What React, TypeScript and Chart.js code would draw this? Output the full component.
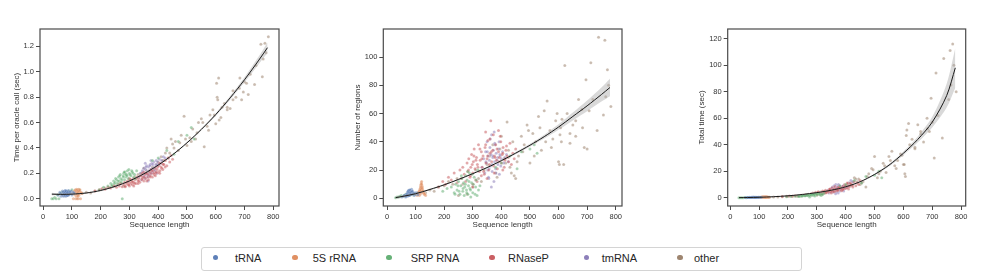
import React, { useEffect, useRef } from "react";
import { Chart, registerables } from "chart.js";

Chart.register(...registerables);

// ---------- categories ----------
const categories = ["tRNA", "5S rRNA", "SRP RNA", "RNaseP", "tmRNA", "other"];
const colors = ["#4C72B0", "#DD8452", "#55A868", "#C44E52", "#8172B3", "#937860"];

// ---------- tRNA ----------
const trnaLen = [52, 58, 62, 65, 67, 69, 70, 71, 72, 73, 74, 74, 75, 76, 76, 77, 78, 79, 80, 81, 82, 83, 84, 85, 86, 87, 88, 90, 92, 95, 100, 108,
  60, 66, 70, 73, 75, 77, 79, 81, 83, 85, 89, 93, 98, 104];
const trnaTime = [0.03, 0.05, 0.02, 0.04, 0.06, 0.03, 0.05, 0.02, 0.045, 0.035, 0.06, 0.025, 0.04, 0.055, 0.03, 0.065, 0.045, 0.02, 0.035, 0.05, 0.06, 0.03, 0.045, 0.025, 0.055, 0.04, 0.065, 0.035, 0.05, 0.04, 0.03, 0.045,
  0.04, 0.03, 0.055, 0.04, 0.03, 0.05, 0.06, 0.04, 0.025, 0.05, 0.03, 0.055, 0.06, 0.05];
const trnaRegions = [1, 1.5, 2, 1, 3, 2, 2.5, 4, 1.5, 3, 5, 2, 3.5, 2.5, 4.5, 3, 6, 2, 3.5, 4, 5, 2.5, 3, 4, 6.5, 3, 5, 4, 3.5, 2, 3, 2.5,
  2, 1.5, 3, 4.5, 5.5, 2, 4, 6, 3, 4.5, 5, 3.5, 4, 4];
const trnaTotal = [0.1, 0.2, 0.1, 0.2, 0.3, 0.1, 0.2, 0.1, 0.2, 0.15, 0.3, 0.1, 0.2, 0.25, 0.15, 0.3, 0.2, 0.1, 0.2, 0.25, 0.3, 0.15, 0.2, 0.1, 0.3, 0.2, 0.35, 0.2, 0.25, 0.2, 0.15, 0.3,
  0.1, 0.1, 0.2, 0.2, 0.3, 0.2, 0.25, 0.3, 0.2, 0.25, 0.2, 0.3, 0.3, 0.3];

// ---------- 5S rRNA ----------
const s5Len = [100, 105, 108, 110, 112, 113, 114, 115, 116, 116, 117, 118, 118, 119, 119, 120, 120, 121, 122, 122, 123, 124, 125, 127, 130, 135,
  111, 114, 117, 118, 120, 121, 123, 126, 128, 132];
const s5Time = [0.04, 0.0, 0.06, 0.03, 0.07, 0.0, 0.05, 0.04, 0.075, 0.02, 0.06, 0.035, 0.0, 0.065, 0.05, 0.03, 0.07, 0.045, 0.0, 0.06, 0.04, 0.075, 0.03, 0.05, 0.0, 0.04,
  0.05, 0.065, 0.04, 0.07, 0.055, 0.02, 0.065, 0.06, 0.07, 0.05];
const s5Regions = [3, 2, 4, 3, 5, 2, 6, 4, 7, 3, 8, 5, 9, 6, 10, 11, 4, 12, 7, 9, 5, 8, 6, 4, 3, 2,
  4, 5, 6, 7, 8, 10, 7, 5, 4, 3];
const s5Total = [0.3, 0.1, 0.4, 0.3, 0.5, 0.1, 0.4, 0.3, 0.6, 0.2, 0.5, 0.3, 0.2, 0.5, 0.4, 0.3, 0.6, 0.4, 0.2, 0.5, 0.3, 0.6, 0.3, 0.4, 0.1, 0.3,
  0.4, 0.4, 0.4, 0.5, 0.5, 0.3, 0.5, 0.4, 0.5, 0.4];

// ---------- SRP RNA ----------
const srpLen = [30, 35, 40, 45, 50, 55, 60, 65, 90, 100, 110, 125,
  195, 210, 225, 235, 240, 245, 250, 255, 258, 262, 265, 268, 270, 272, 275, 278, 280, 283, 285, 288, 290, 293, 296, 300, 305, 310, 315, 320,
  380, 400, 430, 455, 470, 500, 515, 525,
  238, 248, 252, 260, 266, 274, 279, 282, 287, 292, 298, 302, 308, 312, 318, 325];
const srpTime = [0.0, 0.0, 0.01, 0.0, 0.03, 0.0, 0.04, 0.05, 0.06, 0.07, 0.065, 0.07,
  0.07, 0.09, 0.1, 0.12, 0.11, 0.14, 0.13, 0.15, 0.12, 0.17, 0.14, 0.19, 0.16, 0.13, 0.0, 0.18, 0.2, 0.15, 0.21, 0.17, 0.19, 0.22, 0.16, 0.2, 0.18, 0.21, 0.17, 0.16,
  0.3, 0.32, 0.38, 0.35, 0.45, 0.5, 0.56, 0.47,
  0.1, 0.12, 0.16, 0.14, 0.18, 0.15, 0.17, 0.21, 0.19, 0.18, 0.23, 0.19, 0.22, 0.2, 0.19, 0.22];
const srpRegions = [0.5, 1, 1, 1.5, 2, 1.5, 2, 3, 2.5, 3, 4, 5,
  5, 7, 8, 4, 10, 6, 12, 3, 9, 14, 5, 11, 2, 8, 16, 6, 13, 3, 9, 18, 7, 1, 11, 4, 15, 8, 2, 6,
  22, 25, 30, 21, 33, 35, 38, 32,
  3, 9, 5, 16, 7, 10, 4, 19, 12, 6, 17, 10, 3, 13, 20, 9];
const srpTotal = [0, 0, 0, 0, 0.1, 0, 0.1, 0.2, 0.2, 0.3, 0.3, 0.4,
  0.6, 0.8, 1, 1.2, 1.1, 1.5, 1.3, 1.8, 1.4, 2, 1.6, 2.2, 1.5, 1.9, 0.5, 2.4, 1.8, 2.1, 2.6, 1.7, 2.5, 1.2, 2.8, 2, 3, 2.2, 1.6, 2.4,
  9, 10, 13, 11, 16, 17, 20, 15,
  0.9, 1.2, 1.6, 1.4, 2, 1.8, 2.1, 2.6, 2.3, 2.4, 3, 2.6, 3.2, 2.8, 2.6, 3.3];

// ---------- RNaseP ----------
const rnasepLen = [180, 195, 205, 215, 225, 235, 245, 255,
  260, 265, 270, 275, 280, 283, 286, 290, 293, 296,
  300, 302, 305, 308, 310, 313, 316, 320, 323, 326,
  330, 333, 336, 340, 343, 346, 350, 353, 356, 360,
  363, 366, 370, 373, 376, 380, 383, 386, 390, 393,
  396, 400, 403, 406, 410, 413, 416, 420, 425, 430,
  435, 440, 445, 450, 300, 350,
  285, 292, 298, 304, 311, 318, 325, 332, 338, 345,
  352, 358, 365, 372, 378, 385, 392, 398, 405, 412,
  418, 424, 300, 315, 330, 345, 360, 375, 390, 405];
const rnasepTime = [0.06, 0.07, 0.08, 0.075, 0.09, 0.085, 0.1, 0.09,
  0.11, 0.1, 0.12, 0.095, 0.11, 0.13, 0.1, 0.12, 0.14, 0.11,
  0.13, 0.15, 0.12, 0.14, 0.11, 0.16, 0.13, 0.15, 0.12, 0.17,
  0.14, 0.16, 0.13, 0.18, 0.15, 0.17, 0.14, 0.19, 0.16, 0.2,
  0.17, 0.15, 0.21, 0.18, 0.2, 0.17, 0.22, 0.19, 0.24, 0.2,
  0.23, 0.21, 0.26, 0.22, 0.25, 0.28, 0.23, 0.27, 0.3, 0.26,
  0.32, 0.29, 0.34, 0.31, 0.1, 0.21,
  0.095, 0.13, 0.11, 0.15, 0.13, 0.12, 0.16, 0.14, 0.18, 0.16,
  0.17, 0.2, 0.19, 0.17, 0.22, 0.2, 0.21, 0.25, 0.2, 0.24,
  0.27, 0.25, 0.16, 0.1, 0.12, 0.2, 0.14, 0.23, 0.18, 0.28];
const rnasepRegions = [8, 12, 10, 15, 13, 18, 11, 20,
  14, 22, 17, 12, 25, 19, 28, 15, 22, 31,
  18, 26, 35, 21, 13, 29, 24, 38, 19, 27,
  33, 22, 30, 17, 36, 25, 28, 41, 20, 32,
  55, 26, 34, 23, 30, 38, 27, 21, 33, 29,
  44, 25, 31, 36, 22, 28, 34, 30, 26, 39,
  24, 32, 28, 35, 10, 14,
  20, 16, 24, 30, 27, 22, 35, 28, 19, 38,
  30, 24, 33, 45, 29, 35, 26, 40, 32, 27,
  37, 29, 8, 12, 16, 47, 42, 18, 48, 20];
const rnasepTotal = [0.8, 1, 1.2, 1.1, 1.5, 1.3, 1.8, 1.6,
  2.2, 1.9, 2.6, 2, 3, 2.4, 3.5, 2.8, 3.3, 4,
  2.6, 3.6, 4.5, 3, 2.5, 4.2, 3.4, 5, 3.2, 4.4,
  5.5, 3.8, 5, 4, 6.2, 4.6, 5.5, 7.5, 4.4, 6.5,
  8.5, 5, 7, 5.4, 6.8, 8, 6, 5.2, 8.5, 6.8,
  10, 7, 9, 10.5, 6.5, 8.5, 11, 9.5, 8, 12,
  9, 11, 10, 13, 2, 3.5,
  2.5, 3.2, 3, 4, 3.6, 3.2, 4.6, 4, 4.8, 5.8,
  5, 6, 6.4, 5.6, 7.5, 7, 7.2, 9, 7.4, 8.8,
  10.5, 9.5, 3, 2.4, 3.6, 6.5, 4.5, 8, 6, 11];

// ---------- tmRNA ----------
const tmLen = [332, 338, 342, 345, 348, 350, 352, 354, 356, 358, 360, 362, 364, 366, 368, 370, 372, 374, 376, 378, 380, 382, 385, 388, 390, 393, 396, 400, 404, 408, 412, 418, 424, 365,
  346, 351, 357, 361, 367, 371, 377, 381, 387, 392, 398, 355, 375, 395];
const tmTime = [0.17, 0.2, 0.15, 0.22, 0.18, 0.24, 0.2, 0.16, 0.23, 0.19, 0.26, 0.21, 0.17, 0.25, 0.22, 0.19, 0.27, 0.23, 0.2, 0.28, 0.24, 0.21, 0.29, 0.25, 0.22, 0.3, 0.26, 0.27, 0.31, 0.28, 0.3, 0.33, 0.32, 0.14,
  0.21, 0.17, 0.25, 0.2, 0.18, 0.26, 0.22, 0.27, 0.23, 0.27, 0.29, 0.28, 0.3, 0.2];
const tmRegions = [22, 28, 18, 33, 25, 40, 20, 30, 14, 27, 36, 23, 31, 45, 19, 29, 34, 12, 26, 38, 21, 32, 27, 24, 35, 17, 30, 28, 33, 25, 29, 31, 26, 8,
  26, 33, 21, 42, 24, 30, 39, 18, 29, 40, 23, 15, 47, 31];
const tmTotal = [4, 5.5, 3.5, 6, 4.5, 7, 5, 8, 4, 6, 9, 5.5, 7, 10, 4.5, 6.5, 8, 3.5, 6, 9, 5, 7.5, 6.5, 6, 8.5, 5, 7, 8, 9.5, 8, 11, 13, 12, 3,
  5, 6.5, 5, 7.5, 6, 8, 6.5, 8.5, 7, 9, 8, 6, 10, 7.5];

// ---------- other ----------
const otherLen = [135, 150, 165, 180, 200, 215, 230, 245,
  265, 280, 300, 320, 340, 360, 380, 395, 410, 420, 430, 440, 445, 450,
  460, 470, 480, 490, 500, 510, 520, 530, 540, 550, 560, 570, 580, 590, 600,
  603, 605, 607, 610, 612, 618, 622, 630, 640, 650, 660, 670, 682, 684, 690, 696, 700, 707, 713, 720, 735, 740, 757, 762, 771, 783, 765, 775,
  250, 310, 330, 350, 370, 385, 400, 415, 425, 435, 455, 475, 495, 515, 535, 555, 575, 595, 640, 660];
const otherTime = [0.04, 0.05, 0.045, 0.06, 0.07, 0.085, 0.09, 0.1,
  0.12, 0.1, 0.15, 0.17, 0.2, 0.22, 0.25, 0.27, 0.33, 0.3, 0.4, 0.36, 0.47, 0.43,
  0.45, 0.38, 0.5, 0.65, 0.42, 0.48, 0.55, 0.47, 0.6, 0.63, 0.41, 0.57, 0.66, 0.7, 0.59,
  0.91, 0.8, 0.78, 0.95, 0.62, 0.64, 0.72, 0.75, 0.7, 0.71, 0.85, 0.8, 0.87, 0.95, 0.78, 0.84, 0.92, 0.91, 0.82, 0.98, 0.9, 1.05, 1.216, 0.96, 1.224, 1.276, 1.1, 1.15,
  0.1, 0.14, 0.19, 0.24, 0.21, 0.24, 0.29, 0.3, 0.36, 0.32, 0.4, 0.44, 0.47, 0.45, 0.52, 0.6, 0.54, 0.66, 0.72, 0.78];
const otherRegions = [4, 6, 5, 8, 9, 12, 10, 14,
  10, 3, 8, 14, 20, 30, 18, 35, 28, 54, 22, 40, 16, 14,
  30, 44, 38, 52, 25, 46, 40, 58, 34, 62, 69, 48, 42, 55, 26,
  24, 45, 50, 40, 56, 24, 94, 60, 46, 52, 55, 70, 63, 50, 36, 84, 35, 62, 96, 70, 48, 114, 59, 112, 91, 65, 72, 80,
  2, 20, 12, 24, 38, 15, 44, 25, 34, 18, 26, 33, 48, 30, 50, 40, 36, 60, 39, 44];
const otherTotal = [0.3, 0.4, 0.4, 0.6, 0.8, 1, 1, 1.3,
  2, 1.5, 3, 4, 5, 6, 7, 8, 11, 9, 15, 12, 14, 10,
  12, 8, 18, 22, 31, 15, 20, 26, 19, 31, 35, 24, 28, 33, 25,
  25, 18, 16, 47, 51, 56, 40, 44, 38, 55, 48, 42, 60, 52, 50, 75, 57, 30, 94, 62, 45, 105, 74, 111, 116, 80, 85, 100,
  2, 3, 4, 4.5, 6, 8, 9, 10, 12, 14, 11, 16, 21, 18, 24, 28, 22, 32, 37, 50];

// ---------- regression fits ----------
const fitLen = [30, 60, 100, 150, 200, 250, 300, 350, 400, 450, 500, 550, 600, 650, 700, 750, 780];
const fitTime = [0.036, 0.034, 0.036, 0.045, 0.065, 0.097, 0.14, 0.196, 0.265, 0.346, 0.44, 0.546, 0.663, 0.794, 0.937, 1.092, 1.19];
const fitTimeBand = [0.01, 0.007, 0.005, 0.004, 0.004, 0.004, 0.004, 0.004, 0.005, 0.005, 0.006, 0.008, 0.011, 0.015, 0.02, 0.03, 0.04];
const fitRegions = [0.5, 1.6, 3.3, 6.3, 9.6, 13.4, 17.5, 21.8, 26.7, 32, 37.6, 43.7, 50.5, 58, 65.5, 73.5, 78.5];
const fitRegionsBand = [1, 0.8, 0.6, 0.5, 0.4, 0.4, 0.4, 0.5, 0.6, 0.8, 1, 1.4, 2, 2.8, 3.8, 5, 6.2];
const fitTotal = [0, 0.1, 0.3, 0.7, 1.4, 2.4, 3.8, 5.6, 8.2, 12, 17.5, 24.5, 33.5, 44, 57, 77, 98];
const fitTotalBand = [0.3, 0.2, 0.2, 0.2, 0.2, 0.2, 0.2, 0.3, 0.3, 0.4, 0.6, 0.9, 1.4, 2.2, 4, 9, 15];

// ---------- ticks ----------
const xTicks = [0, 100, 200, 300, 400, 500, 600, 700, 800];
const timeTicks = [0.0, 0.2, 0.4, 0.6, 0.8, 1.0, 1.2];
const regionTicks = [0, 20, 40, 60, 80, 100];
const totalTicks = [0, 20, 40, 60, 80, 100, 120];

const catLens = [trnaLen, s5Len, srpLen, rnasepLen, tmLen, otherLen];

const FONT = "'Liberation Sans', Arial, Helvetica, sans-serif";
const INK = "#333333";
const SPINE = "#4a4a4a";

function rgba(hex: string, a: number) {
  const n = parseInt(hex.slice(1), 16);
  return `rgba(${(n >> 16) & 255},${(n >> 8) & 255},${n & 255},${a})`;
}

type PanelSpec = {
  left: number;
  yAxisWidth: number;
  rightPad: number;
  yTitlePad: number;
  xMin: number;
  xMax: number;
  yMin: number;
  yMax: number;
  yTicks: number[];
  decimals: number;
  yTitle: string;
  values: number[][];
  fit: number[];
  band: number[];
};

const panels: PanelSpec[] = [
  {
    left: 0, yAxisWidth: 40, rightPad: 21, yTitlePad: 12,
    xMin: -11, xMax: 820, yMin: -0.0575, yMax: 1.337,
    yTicks: timeTicks, decimals: 1, yTitle: "Time per oracle call (sec)",
    values: [trnaTime, s5Time, srpTime, rnasepTime, tmTime, otherTime],
    fit: fitTime, band: fitTimeBand,
  },
  {
    left: 340, yAxisWidth: 43.3, rightPad: 18, yTitlePad: 13.2,
    xMin: -13, xMax: 822, yMin: -5.4, yMax: 119.9,
    yTicks: regionTicks, decimals: 0, yTitle: "Number of regions",
    values: [trnaRegions, s5Regions, srpRegions, rnasepRegions, tmRegions, otherRegions],
    fit: fitRegions, band: fitRegionsBand,
  },
  {
    left: 680, yAxisWidth: 47.7, rightPad: 14.3, yTitlePad: 17,
    xMin: -9, xMax: 816, yMin: -6.3, yMax: 127.3,
    yTicks: totalTicks, decimals: 0, yTitle: "Total time (sec)",
    values: [trnaTotal, s5Total, srpTotal, rnasepTotal, tmTotal, otherTotal],
    fit: fitTotal, band: fitTotalBand,
  },
];

const framePlugin = {
  id: "frame",
  afterDraw(chart: any) {
    const { ctx, chartArea: a } = chart;
    ctx.save();
    ctx.strokeStyle = SPINE;
    ctx.lineWidth = 1.2;
    ctx.strokeRect(a.left, a.top, a.right - a.left, a.bottom - a.top);
    ctx.restore();
  },
};

function buildConfig(p: PanelSpec): any {
  const fitLine = {
    type: "line",
    data: fitLen.map((x, i) => ({ x, y: p.fit[i] })),
    borderColor: "#1a1a1a",
    borderWidth: 1,
    pointRadius: 0,
    tension: 0.3,
    fill: false,
  };
  const bandUpper = {
    type: "line",
    data: fitLen.map((x, i) => ({ x, y: p.fit[i] + p.band[i] })),
    borderWidth: 0,
    borderColor: "rgba(0,0,0,0)",
    pointRadius: 0,
    tension: 0.3,
    fill: false,
  };
  const bandLower = {
    type: "line",
    data: fitLen.map((x, i) => ({ x, y: p.fit[i] - p.band[i] })),
    borderWidth: 0,
    borderColor: "rgba(0,0,0,0)",
    backgroundColor: "rgba(170,170,170,0.45)",
    pointRadius: 0,
    tension: 0.3,
    fill: "-1",
  };
  const scatters = categories.map((name, ci) => ({
    type: "scatter",
    label: name,
    data: catLens[ci].map((x, j) => ({ x, y: p.values[ci][j] })),
    backgroundColor: rgba(colors[ci], 0.5),
    borderColor: "rgba(255,255,255,0.35)",
    borderWidth: 0.4,
    pointRadius: 1.5,
  }));
  // index 0 is painted last (on top)
  const datasets = [fitLine, bandUpper, bandLower, ...scatters];

  return {
    type: "scatter",
    data: { datasets },
    plugins: [framePlugin],
    options: {
      animation: false,
      responsive: false,
      maintainAspectRatio: false,
      devicePixelRatio: 1,
      events: [],
      layout: { padding: { left: 0, top: 29, right: p.rightPad, bottom: 0 } },
      plugins: { legend: { display: false }, tooltip: { enabled: false } },
      scales: {
        x: {
          type: "linear",
          min: p.xMin,
          max: p.xMax,
          afterBuildTicks: (s: any) => {
            s.ticks = xTicks.map((v) => ({ value: v }));
          },
          afterFit: (s: any) => {
            s.height = 34;
          },
          border: { display: false },
          grid: { drawOnChartArea: false, drawTicks: true, tickLength: 4, color: SPINE, tickWidth: 1 },
          ticks: {
            padding: 2,
            maxRotation: 0,
            autoSkip: false,
            color: INK,
            font: { family: FONT, size: 7.5 },
            callback: (v: any) => String(v),
          },
          title: {
            display: true,
            text: "Sequence length",
            color: INK,
            font: { family: FONT, size: 8 },
            padding: { top: 0, bottom: 10.2 },
          },
        },
        y: {
          type: "linear",
          min: p.yMin,
          max: p.yMax,
          afterBuildTicks: (s: any) => {
            s.ticks = p.yTicks.map((v) => ({ value: v }));
          },
          afterFit: (s: any) => {
            s.width = p.yAxisWidth;
          },
          border: { display: false },
          grid: { drawOnChartArea: false, drawTicks: true, tickLength: 4, color: SPINE, tickWidth: 1 },
          ticks: {
            padding: 2,
            autoSkip: false,
            color: INK,
            font: { family: FONT, size: 7.5 },
            callback: (v: any) => Number(v).toFixed(p.decimals),
          },
          title: {
            display: true,
            text: p.yTitle,
            color: INK,
            font: { family: FONT, size: 8 },
            padding: { top: p.yTitlePad, bottom: 0 },
          },
        },
      },
    },
  };
}

function Panel({ spec }: { spec: PanelSpec }) {
  const ref = useRef<HTMLCanvasElement | null>(null);
  useEffect(() => {
    if (!ref.current) return;
    const chart = new Chart(ref.current, buildConfig(spec));
    return () => chart.destroy();
  }, [spec]);
  return (
    <canvas
      ref={ref}
      width={300}
      height={240}
      style={{ position: "absolute", left: spec.left, top: 0, width: 300, height: 240 }}
    />
  );
}

const legendDotX = [215.7, 295, 389, 492, 586.7, 680];
const legendTextX = [235, 312.7, 410.7, 508, 601.7, 694];

export default function App() {
  return (
    <div
      style={{
        position: "absolute",
        left: 0,
        top: 0,
        width: 997,
        height: 275,
        background: "#ffffff",
        overflow: "hidden",
        fontFamily: FONT,
      }}
    >
      {panels.map((p, i) => (
        <Panel key={i} spec={p} />
      ))}
      <div
        style={{
          position: "absolute",
          left: 201,
          top: 247,
          width: 601,
          height: 24,
          boxSizing: "border-box",
          border: "1px solid #d4d4d4",
          borderRadius: 3,
          background: "#fff",
        }}
      />
      {categories.map((c, i) => (
        <React.Fragment key={c}>
          <div
            style={{
              position: "absolute",
              left: legendDotX[i] - 2.6,
              top: 257.5 - 2.6,
              width: 5.2,
              height: 5.2,
              borderRadius: "50%",
              background: rgba(colors[i], 0.9),
            }}
          />
          <div
            style={{
              position: "absolute",
              left: legendTextX[i],
              top: 257.5 - 7,
              height: 14,
              lineHeight: "14px",
              fontSize: 11,
              color: "#262626",
              whiteSpace: "nowrap",
            }}
          >
            {c}
          </div>
        </React.Fragment>
      ))}
    </div>
  );
}
